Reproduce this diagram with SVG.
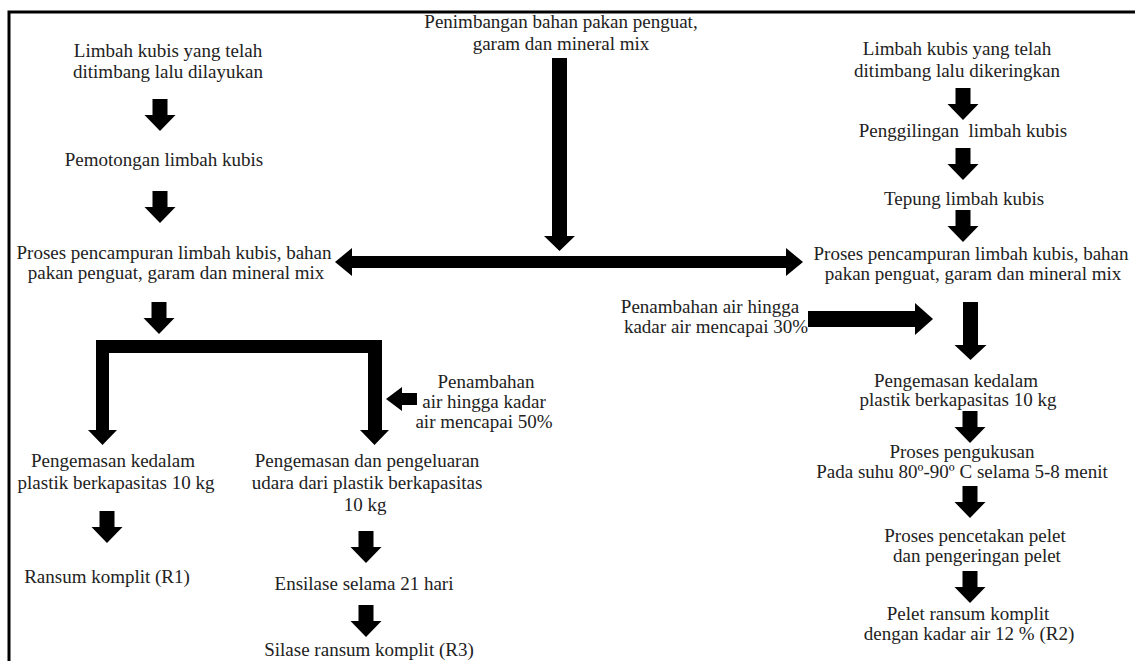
<svg xmlns="http://www.w3.org/2000/svg" xmlns:xlink="http://www.w3.org/1999/xlink" width="1135" height="661" viewBox="0 0 1135 661">
<style>
text{font-family:"Liberation Serif","Times New Roman",serif;font-size:19px;fill:#222;text-anchor:middle}
.ar{fill:#000}
.frame{fill:none;stroke:#000;stroke-width:3}
</style>
<defs>
<path id="dn" d="M-7.5,-32 H7.5 V-16 H15.5 L0,0 L-15.5,-16 H-7.5 Z"/>
</defs>
<rect width="1135" height="661" fill="#fff"/>
<path class="frame" d="M9,661 V12 H1135"/>

<g id="n-top"><text x="561" y="28">Penimbangan bahan pakan penguat,</text><text x="561" y="50">garam dan mineral mix</text></g>

<g id="n-l1"><text x="168" y="57">Limbah kubis yang telah</text><text x="168" y="78">ditimbang lalu dilayukan</text></g>
<g id="n-l2"><text x="164" y="166">Pemotongan limbah kubis</text></g>
<g id="n-l3"><text x="174" y="259">Proses pencampuran limbah kubis, bahan</text><text x="176" y="279">pakan penguat, garam dan mineral mix</text></g>
<g id="n-l4"><text x="113" y="467">Pengemasan kedalam</text><text x="116" y="489">plastik berkapasitas 10 kg</text></g>
<g id="n-l5"><text x="107" y="583">Ransum komplit (R1)</text></g>

<g id="n-m50"><text x="486" y="388">Penambahan</text><text x="484" y="408">air hingga kadar</text><text x="484" y="428">air mencapai 50%</text></g>
<g id="n-m1"><text x="367" y="467">Pengemasan dan pengeluaran</text><text x="367" y="489">udara dari plastik berkapasitas</text><text x="365" y="511">10 kg</text></g>
<g id="n-m2"><text x="364" y="590">Ensilase selama 21 hari</text></g>
<g id="n-m3"><text x="369" y="656">Silase ransum komplit (R3)</text></g>
<g id="n-m30"><text x="710" y="313">Penambahan air hingga</text><text x="716" y="333">kadar air mencapai 30%</text></g>

<g id="n-r1"><text x="957" y="55">Limbah kubis yang telah</text><text x="957" y="77">ditimbang lalu dikeringkan</text></g>
<g id="n-r2"><text x="963" y="137" xml:space="preserve">Penggilingan  limbah kubis</text></g>
<g id="n-r3"><text x="964" y="205">Tepung limbah kubis</text></g>
<g id="n-r4"><text x="971" y="260">Proses pencampuran limbah kubis, bahan</text><text x="973" y="280">pakan penguat, garam dan mineral mix</text></g>
<g id="n-r5"><text x="956" y="387">Pengemasan kedalam</text><text x="958" y="406">plastik berkapasitas 10 kg</text></g>
<g id="n-r6"><text x="962" y="458">Proses pengukusan</text><text x="962" y="478">Pada suhu 80º-90º C selama 5-8 menit</text></g>
<g id="n-r7"><text x="975" y="542">Proses pencetakan pelet</text><text x="977" y="562">dan pengeringan pelet</text></g>
<g id="n-r8"><text x="968" y="620">Pelet ransum komplit</text><text x="969" y="640">dengan kadar air 12 % (R2)</text></g>

<g id="connectors" class="ar">
<path d="M552,58 H567 V236 H575 L559.5,251 L544,236 H552 Z"/>
<path d="M335,262 L352,248 V256 H786 V248 L803,262 L786,276 V268 H352 V276 Z"/>
<use xlink:href="#dn" x="160" y="131"/>
<use xlink:href="#dn" x="160" y="223"/>
<use xlink:href="#dn" x="159" y="334"/>
<path d="M96,340 H382 V430 H389 L374.5,445 L360,430 H368 V353 H109 V430 H117 L102.5,445 L88,430 H96 Z"/>
<use xlink:href="#dn" x="107" y="543"/>
<path d="M386,399 L402,387 V393 H417 V405 H402 V411 Z"/>
<use xlink:href="#dn" x="366" y="563"/>
<use xlink:href="#dn" x="366" y="637"/>
<path d="M808,311 H915 V303 L933,319 L915,335 V327 H808 Z"/>
<use xlink:href="#dn" x="963" y="120"/>
<use xlink:href="#dn" x="963" y="180"/>
<use xlink:href="#dn" x="963" y="242"/>
<path d="M963,302 H978 V345 H986.5 L970.5,360 L954.5,345 H963 Z"/>
<use xlink:href="#dn" x="970" y="443"/>
<use xlink:href="#dn" x="970" y="518"/>
<use xlink:href="#dn" x="970" y="603"/>
</g>
</svg>
